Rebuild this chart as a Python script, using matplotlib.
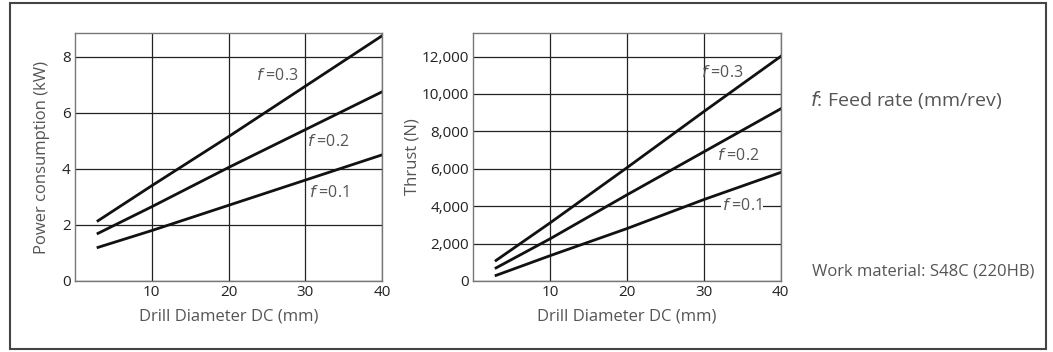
import matplotlib.pyplot as plt
from matplotlib.patches import Rectangle
from matplotlib.ticker import FuncFormatter


# ----------------------------
# Data
# ----------------------------

diameter = [3, 10, 20, 30, 40]

power_f01 = [1.2, 1.8, 2.7, 3.6, 4.5]
power_f02 = [1.7, 2.65, 4.05, 5.4, 6.75]
power_f03 = [2.15, 3.4, 5.15, 6.95, 8.75]

thrust_f01 = [300, 1350, 2800, 4350, 5800]
thrust_f02 = [700, 2250, 4600, 6900, 9200]
thrust_f03 = [1100, 3100, 6050, 9050, 12000]

x_ticks = [10, 20, 30, 40]
power_ticks = [0, 2, 4, 6, 8]
thrust_ticks = [0, 2000, 4000, 6000, 8000, 10000, 12000]


plt.rcParams["font.family"] = ["Open Sans", "DejaVu Sans"]

TEXT_GRAY = "#555555"
GRID = "#222222"


def style_axes(ax, yticks, ylim):

    ax.set_xlim(0, 40)
    ax.set_ylim(*ylim)
    ax.set_xticks(x_ticks)
    ax.set_yticks(yticks)
    ax.tick_params(length=0, labelsize=11, colors="#222222", pad=3)
    ax.grid(True, color=GRID, linewidth=0.9)
    ax.set_axisbelow(True)
    for s in ax.spines.values():
        s.set_color("#777777")
        s.set_linewidth(1.0)
    ax.set_xlabel("Drill Diameter DC (mm)", fontsize=12, color=TEXT_GRAY, labelpad=6)


def f_label(ax, x, y, value, box=False):

    kw = dict(fontsize=11.5, color=TEXT_GRAY, va="center", ha="left")
    if box:
        kw["bbox"] = dict(facecolor="white", edgecolor="none", pad=1)
    ax.text(x, y, r"$\it{f}$ =" + value, **kw)


fig = plt.figure(figsize=(10.53, 3.52), dpi=100)

# outer frame
fig.patches.append(
    Rectangle((10 / 1053, 3 / 352), 1036 / 1053, 346 / 352,
              transform=fig.transFigure, fill=False,
              edgecolor="#444444", linewidth=1.5)
)

# ----------------------------
# Power consumption
# ----------------------------

ax1 = fig.add_axes([75 / 1053, 71 / 352, 307 / 1053, 248 / 352])

for series in (power_f01, power_f02, power_f03):
    ax1.plot(diameter, series, color="#111111", linewidth=2)

style_axes(ax1, power_ticks, (0, 8.85))
ax1.set_ylabel("Power consumption (kW)", fontsize=12, color=TEXT_GRAY, labelpad=9)

f_label(ax1, 23.6, 7.3, "0.3")
f_label(ax1, 30.2, 4.97, "0.2")
f_label(ax1, 30.5, 3.15, "0.1")

# ----------------------------
# Thrust
# ----------------------------

ax2 = fig.add_axes([473 / 1053, 71 / 352, 307.5 / 1053, 248 / 352])

for series in (thrust_f01, thrust_f02, thrust_f03):
    ax2.plot(diameter, series, color="#111111", linewidth=2)

style_axes(ax2, thrust_ticks, (0, 13260))
ax2.yaxis.set_major_formatter(FuncFormatter(lambda v, p: f"{int(v):,}"))
ax2.set_ylabel("Thrust (N)", fontsize=12, color=TEXT_GRAY, labelpad=1)

f_label(ax2, 29.6, 11120, "0.3")
f_label(ax2, 31.7, 6700, "0.2")
f_label(ax2, 32.4, 3990, "0.1", box=True)

# ----------------------------
# Notes
# ----------------------------

fig.text(810 / 1053, 1 - 100 / 352, r"$\it{f}$: Feed rate (mm/rev)",
         fontsize=14, color=TEXT_GRAY, va="center", ha="left")

fig.text(812 / 1053, 1 - 272 / 352, "Work material: S48C (220HB)",
         fontsize=12, color=TEXT_GRAY, va="center", ha="left")

fig.savefig("out.png", dpi=100)
